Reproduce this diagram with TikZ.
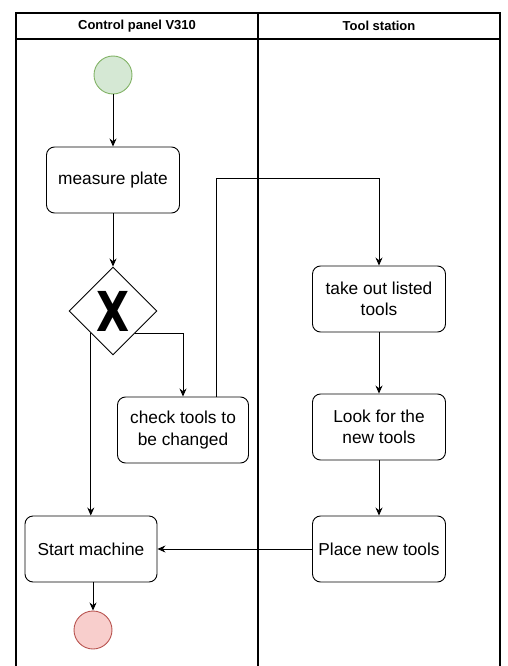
\documentclass[tikz,border=0pt]{standalone}
\usepackage{fontspec}
\setmainfont{Liberation Sans}
\newfontfamily\heavyfont{DejaVu Sans}
\usepackage{xcolor}
\usetikzlibrary{shapes.geometric, arrows.meta, positioning}
\definecolor{startfill}{HTML}{D5E8D4}
\definecolor{startline}{HTML}{82B366}
\definecolor{endfill}{HTML}{F8CECC}
\definecolor{endline}{HTML}{B85450}

\begin{document}
\begin{tikzpicture}[x=1pt, y=-1pt,
  act/.style={rectangle, rounded corners=8pt, draw, line width=0.9pt,
              minimum width=133pt, minimum height=66pt, align=center,
              font=\fontsize{17.3}{21.5}\selectfont},
  gate/.style={diamond, draw, line width=0.9pt, minimum width=88pt,
              minimum height=88pt, inner sep=0pt},
  startnode/.style={circle, draw=startline, fill=startfill, line width=0.9pt,
              minimum size=38pt, inner sep=0pt},
  endnode/.style={circle, draw=endline, fill=endfill, line width=0.9pt,
              minimum size=38pt, inner sep=0pt},
  lane/.style={font=\fontsize{13}{15}\selectfont\bfseries},
  arrow/.style={-{Stealth[length=8pt, width=7pt]}, line width=0.9pt}
]
\useasboundingbox (0,0) rectangle (508,666);

% swimlanes
\draw[line width=1.2pt] (16,666) -- (16,13) -- (500,13) -- (500,666);
\draw[line width=1.2pt] (16,39) -- (500,39);
\draw[line width=1.2pt] (258,13) -- (258,666);
\node[lane] (panel) at (137,26) {Control panel V310};
\node[lane] (station) at (379,26) {Tool station};

% control panel side
\node[startnode] (start) at (113,75) {};
\node[act] (measure) at (113,180) {measure plate};
\node[gate] (choice) at (113,311)
  {\scalebox{0.78}[1]{\heavyfont\fontsize{55}{55}\selectfont\bfseries X}};
\node[act, minimum width=131pt] (check) at (183,430) {check tools to\\be changed};
\node[act, minimum width=132pt] (startm) at (91,549) {Start machine};
\node[endnode] (end) at (93,630) {};

% tool station side
\node[act] (takeout) at (379,299) {take out listed\\tools};
\node[act] (look) at (379,427) {Look for the\\new tools};
\node[act] (place) at (379,549) {Place new tools};
\coordinate (loop) at (216,178);

% arrows
\draw[arrow] (start) -- (measure);
\draw[arrow] (measure) -- (choice);
\draw[arrow] (choice.south west) -- (choice.south west |- startm.north);
\draw[arrow] (choice.south east) -| (check.north);
\draw[arrow] (check.north -| loop) -- (loop) -| (takeout.north);
\draw[arrow] (takeout) -- (look);
\draw[arrow] (look) -- (place);
\draw[arrow] (place.west) -- (startm.east);
\draw[arrow] (startm.south -| end) -- (end);
\end{tikzpicture}
\end{document}
